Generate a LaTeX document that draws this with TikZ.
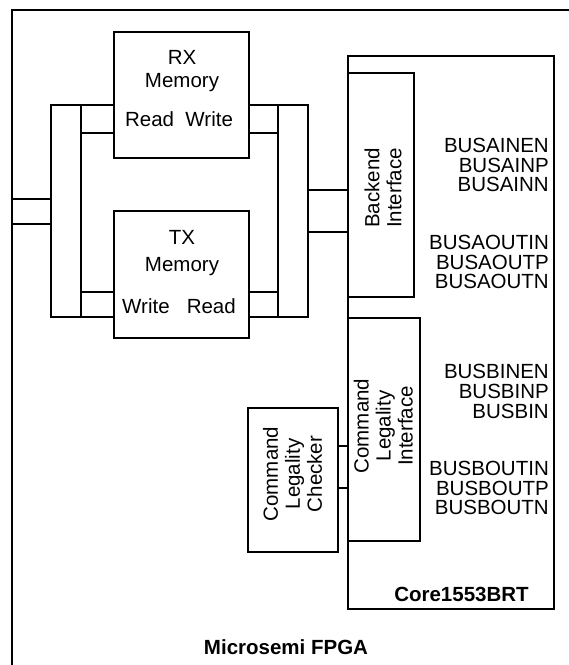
\documentclass[tikz,border=0pt]{standalone}
\usepackage{fontspec}
\setmainfont{Liberation Sans}
\usetikzlibrary{fit}
\begin{document}
\begin{tikzpicture}[x=1pt,y=-1pt,
  blk/.style={draw,line width=2pt,inner sep=0pt,fit={#1}},
  txt/.style={inner sep=0pt,font=\fontsize{20.5}{22}\selectfont},
  bus/.style={txt,align=right,anchor=east,font=\fontsize{20.5}{19.8}\selectfont},
  vtxt/.style={txt,rotate=90,align=center,font=\fontsize{20.5}{22}\selectfont},
  btxt/.style={txt,font=\fontsize{20.5}{22}\selectfont\bfseries}]
\useasboundingbox (0,0) rectangle (569,665);
% outer FPGA frame (runs past the right and bottom edges)
\node[blk={(12,10) (620,720)}] (fpga) {};
% memories
\node[blk={(114,32) (249,158)}] (rx) {};
\node[blk={(114,211) (249,338)}] (tx) {};
% left side buses
\node[blk={(12,199) (51,224)}] (lstub) {};
\node[blk={(51,105) (81,317)}] (lbus) {};
\node[blk={(81,105) (114,133)}] (rxl) {};
\node[blk={(81,292) (114,317)}] (txl) {};
% right side buses
\node[blk={(249,105) (278,133)}] (rxr) {};
\node[blk={(249,292) (278,317)}] (txr) {};
\node[blk={(278,105) (308,317)}] (rbus) {};
\node[blk={(308,190) (348,232)}] (bconn) {};
% core
\node[blk={(348,56) (554,609)}] (core) {};
\node[blk={(348,73) (414,297)}] (bif) {};
\node[blk={(348,318) (420,541)}] (cli) {};
\node[blk={(248,408) (338,552)}] (clc) {};
\node[blk={(338,446) (348,488)}] (cconn) {};
% texts
\node[txt,anchor=base] (rx1) at (182,64) {RX};
\node[txt,anchor=base] (rx2) at (182,87) {Memory};
\node[txt,anchor=base] (rx3) at (179,126.6) {Read\ \ Write};
\node[txt,anchor=base] (tx1) at (182,244) {TX};
\node[txt,anchor=base] (tx2) at (182,271) {Memory};
\node[txt,anchor=base] (tx3) at (179,313) {Write\ \ \ Read};
\node[bus] (busa) at (549,165) {BUSAINEN\\BUSAINP\\BUSAINN};
\node[bus] (busao) at (549,262) {BUSAOUTIN\\BUSAOUTP\\BUSAOUTN};
\node[bus] (busb) at (549,391.6) {BUSBINEN\\BUSBINP\\BUSBIN};
\node[bus] (busbo) at (549,488) {BUSBOUTIN\\BUSBOUTP\\BUSBOUTN};
\node[vtxt] (bift) at (383,188) {Backend\\Interface};
\node[vtxt] (clit) at (383.3,426) {Command\\Legality\\Interface};
\node[vtxt] (clct) at (292.5,474) {Command\\Legality\\Checker};
\node[btxt] (coret) at (461.5,594.5) {Core1553BRT};
\node[btxt] (fpgat) at (286,647.5) {Microsemi FPGA};
\end{tikzpicture}
\end{document}
